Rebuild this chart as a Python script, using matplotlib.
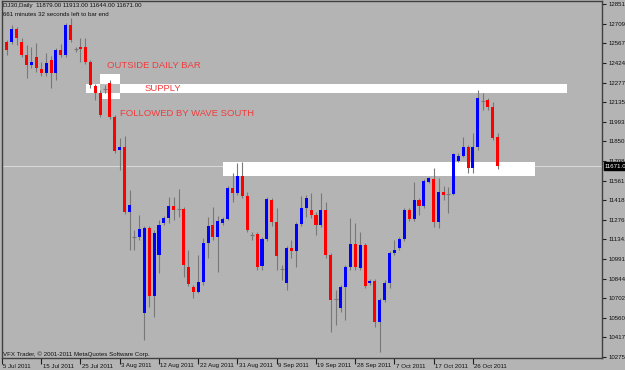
import matplotlib
matplotlib.use('Agg')
import matplotlib.pyplot as plt
import matplotlib.transforms as mtrans
from matplotlib import font_manager
from matplotlib.patches import Rectangle
import numpy as np

# ---------------- data ----------------
first_bar = 1
opens = [12574, 12574, 12669, 12574, 12480, 12407, 12465, 12377, 12348, 12443,
         12348, 12516, 12480, 12698, 12523, 12538, 12538, 12428, 12253, 12202,
         12235, 12275, 12027, 11786, 11808, 11333, 11151, 11151, 10596, 11217,
         10720, 11019, 11253, 11290, 11377, 11355, 11355, 10932, 10786, 10749,
         10822, 11107, 11239, 11151, 11253, 11282, 11509, 11472, 11596, 11450,
         11165, 11173, 10939, 11136, 11421, 11260, 10917, 10815, 11071, 11049,
         11246, 11363, 11348, 11312, 11239, 11348, 11019, 10698, 10633, 10786,
         10932, 11100, 10925, 11093, 10815, 10830, 10530, 10691, 10815, 11034,
         11071, 11136, 11348, 11282, 11421, 11377, 11552, 11574, 11260, 11479,
         11465, 11465, 11706, 11742, 11808, 11655, 11808, 12144, 12151, 12100,
         11879]
highs = [12589, 12698, 12684, 12604, 12552, 12538, 12567, 12428, 12494, 12472,
         12531, 12560, 12713, 12750, 12538, 12604, 12604, 12443, 12268, 12224,
         12261, 12297, 12042, 11874, 11888, 11494, 11202, 11312, 11231, 11231,
         11202, 11275, 11304, 11443, 11443, 11501, 11370, 11056, 10800, 11019,
         11144, 11297, 11370, 11304, 11297, 11525, 11618, 11691, 11698, 11479,
         11188, 11188, 11151, 11443, 11436, 11363, 10947, 11085, 11129, 11260,
         11450, 11457, 11472, 11333, 11472, 11406, 11034, 10764, 10800, 10947,
         11290, 11253, 11188, 11107, 10844, 10844, 10706, 10837, 11049, 11129,
         11151, 11363, 11363, 11552, 11436, 11574, 11589, 11655, 11582, 11525,
         11516, 11764, 11764, 11881, 11822, 11910, 12224, 12202, 12166, 12136,
         11913]
lows = [12480, 12560, 12552, 12465, 12312, 12385, 12355, 12326, 12326, 12239,
        12297, 12465, 12465, 12574, 12501, 12428, 12414, 12239, 12151, 12027,
        12202, 12012, 11764, 11640, 11319, 11056, 11056, 11129, 10399, 10640,
        10567, 10888, 11239, 11253, 11275, 11297, 10859, 10793, 10706, 10742,
        10800, 10998, 11129, 10895, 11239, 11275, 11406, 11457, 11436, 11188,
        11129, 10910, 10910, 11122, 11231, 10910, 10837, 10764, 10998, 10932,
        11231, 11297, 11290, 11163, 11224, 10998, 10457, 10508, 10603, 10545,
        10910, 10910, 10910, 10779, 10800, 10494, 10311, 10676, 10779, 11019,
        11056, 11122, 11268, 11268, 11312, 11363, 11545, 11224, 11217, 11421,
        11326, 11457, 11698, 11735, 11618, 11618, 11786, 12078, 12078, 11859,
        11644]
closes = [12516, 12669, 12604, 12480, 12407, 12428, 12385, 12348, 12421, 12348,
          12516, 12480, 12698, 12589, 12523, 12523, 12428, 12261, 12202, 12042,
          12235, 12027, 11779, 11808, 11333, 11385, 11151, 11209, 11217, 10720,
          11180, 11239, 11290, 11377, 11348, 11355, 10947, 10808, 10749, 10822,
          11107, 11231, 11151, 11268, 11282, 11509, 11472, 11596, 11450, 11202,
          11165, 10932, 11136, 11428, 11260, 11012, 10917, 11071, 11049, 11246,
          11363, 11436, 11312, 11239, 11348, 11019, 10691, 10698, 10786, 10932,
          11100, 10932, 11093, 10793, 10830, 10530, 10691, 10815, 11034, 11056,
          11136, 11348, 11282, 11421, 11377, 11560, 11582, 11260, 11479, 11457,
          11465, 11757, 11742, 11808, 11655, 11808, 12166, 12144, 12100, 11874,
          11671]

date_ticks = [0, 8, 16, 24, 32, 40, 48, 56, 64, 72, 80, 88, 96]
date_labels = ['5 Jul 2011', '15 Jul 2011', '25 Jul 2011', '3 Aug 2011',
               '12 Aug 2011', '22 Aug 2011', '31 Aug 2011', '9 Sep 2011',
               '19 Sep 2011', '28 Sep 2011', '7 Oct 2011', '17 Oct 2011',
               '26 Oct 2011']
price_ticks = [12851.8, 12709.4, 12567.0, 12424.6, 12277.8, 12135.4, 11993.0,
               11850.6, 11708.2, 11561.3, 11418.9, 11276.5, 11134.1, 10991.7,
               10844.9, 10702.5, 10560.1, 10417.7, 10275.3]
last_price = 11671.0

header1 = 'DJ30,Daily  11879.00 11913.00 11644.00 11671.00'
header2 = '661 minutes 32 seconds left to bar end'
footer = 'VFX Trader, \u00a9 2001-2011 MetaQuotes Software Corp.'

# annotation zones (bar index range, price range)
supply_zone = (17.1, 115.2, 12202, 12268)
outside_box = (20.0, 24.05, 12158, 12341)
demand_zone = (45.05, 108.6, 11596, 11698)

# ---------------- style ----------------
W, H = 625, 370
BG = '#b4b4b4'
RED = '#ff0000'
BLUE = '#0000ff'
WICK = '#787878'
TXT_RED = '#f03c3c'
REG = ['Liberation Sans', 'DejaVu Sans']

_names = {f.name for f in font_manager.fontManager.ttflist}
if 'Liberation Sans Narrow' in _names:
    SMALL = dict(family=['Liberation Sans Narrow', 'DejaVu Sans'], size=5.0)
else:
    SMALL = dict(family=REG, size=4.4)

fig = plt.figure(figsize=(W / 100, H / 100), dpi=100, facecolor=BG)
ax = fig.add_axes([2 / W, 1 - 358 / H, 600 / W, 357 / H])
ax.set_facecolor(BG)
ax.set_xlim(0, 122.3)
ax.set_ylim(10268.0, 12873.7)

# zones
def zone(z, color, zo):
    ax.add_patch(Rectangle((z[0], z[2]), z[1] - z[0], z[3] - z[2],
                           facecolor=color, edgecolor='none', zorder=zo))

ax.axhline(last_price, color='#d6d6d6', lw=0.8, zorder=1)
zone(supply_zone, 'white', 1.5)
zone(outside_box, 'white', 1.5)
ov = (max(supply_zone[0], outside_box[0]), min(supply_zone[1], outside_box[1]),
      max(supply_zone[2], outside_box[2]), min(supply_zone[3], outside_box[3]))
zone(ov, '#bcbcbc', 1.6)
zone(demand_zone, 'white', 1.5)

# candles
o = np.array(opens, float)
h = np.array(highs, float)
l = np.array(lows, float)
c = np.array(closes, float)
x = np.arange(first_bar, first_bar + len(o))
up = c > o
dn = c < o
dj = c == o
bw = 0.62
ax.vlines(x, l, h, color=WICK, lw=0.8, zorder=3)
bot = np.minimum(o, c)
ht = np.maximum(np.abs(c - o), 7.0)
ax.bar(x[up], ht[up], bottom=bot[up], width=bw, color=BLUE, lw=0, zorder=4)
ax.bar(x[dn], ht[dn], bottom=bot[dn], width=bw, color=RED, lw=0, zorder=4)
ax.hlines(o[dj], x[dj] - bw / 2 - 0.1, x[dj] + bw / 2 + 0.1, color=WICK, lw=0.8, zorder=4)

# annotation texts
ax.text(21.4, 12406, 'OUTSIDE DAILY BAR', color=TXT_RED, fontsize=6.8,
        family=REG, va='center', ha='left', zorder=5)
ax.text(29.15, 12233, 'SUPPLY', color=TXT_RED, fontsize=6.8,
        family=REG, va='center', ha='left', zorder=5)
ax.text(24.05, 12049, 'FOLLOWED BY WAVE SOUTH', color=TXT_RED, fontsize=6.8,
        family=REG, va='center', ha='left', zorder=5)

# axes styling
for s in ax.spines.values():
    s.set_color('#404040')
    s.set_linewidth(1.0)

ax.yaxis.tick_right()
ax.set_yticks(price_ticks)
ax.set_yticklabels([f'{v:.1f}' for v in price_ticks])
ax.tick_params(axis='y', direction='out', length=3, width=0.8, color='#202020',
               labelsize=SMALL['size'], pad=2, labelcolor='#101010',
               labelfontfamily=SMALL['family'])
ax.set_xticks(date_ticks)
ax.set_xticklabels([])
ax.tick_params(axis='x', direction='out', length=4, width=0.8, color='#202020')

trans = mtrans.blended_transform_factory(ax.transData, fig.transFigure)
for t, lab in zip(date_ticks, date_labels):
    ax.text(t + 0.3, 1 - 366 / H, lab, transform=trans, fontsize=SMALL['size'],
            family=SMALL['family'], color='#101010', va='center', ha='left',
            clip_on=False)

# header / footer
for txt, py in ((header1, 6), (header2, 14), (footer, 354)):
    fig.text(3 / W, 1 - py / H, txt, fontsize=SMALL['size'], family=SMALL['family'],
             color='#101010', va='center', ha='left')

# current price label
fig.text(605 / W, 1 - 166 / H, f'{last_price:.1f}', fontsize=SMALL['size'],
         family=SMALL['family'], color='white', va='center', ha='left',
         bbox=dict(boxstyle='square,pad=0.2', fc='black', ec='black'))

fig.savefig('out.png', dpi=100, facecolor=BG)
